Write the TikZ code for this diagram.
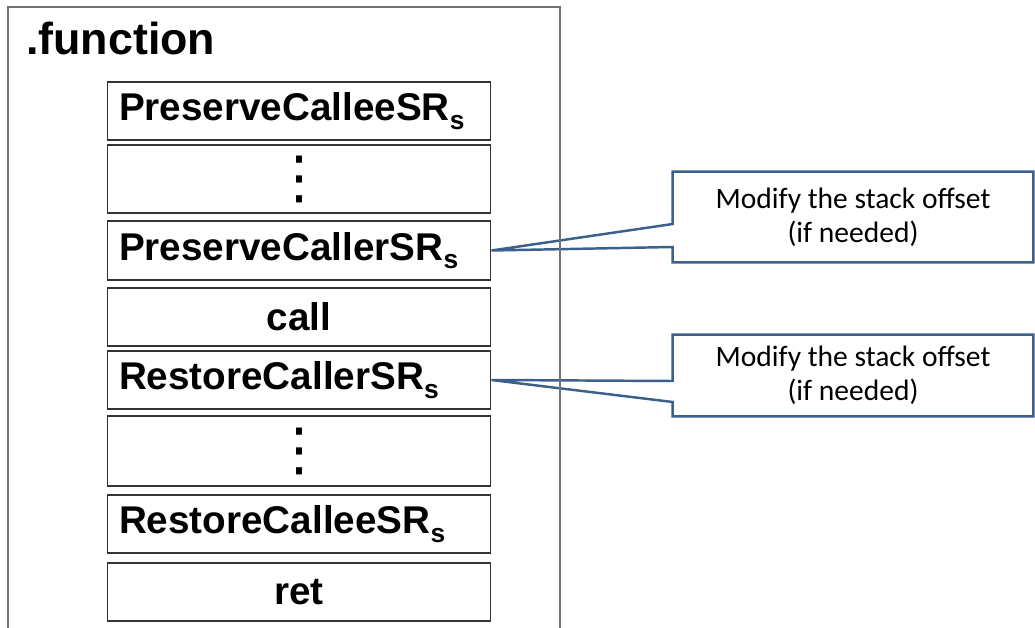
\documentclass[tikz,border=0pt]{standalone}
\usepackage{fontspec}
\setmainfont{Liberation Sans}
\newfontfamily\notefont{Carlito}
\newfontfamily\dotfont{DejaVu Sans}
\usepackage{tikz}
\usetikzlibrary{calc,backgrounds}

\definecolor{calloutblue}{RGB}{60,96,140}
\definecolor{framegray}{RGB}{115,115,115}

\newcommand{\srsub}{\raisebox{-0.22em}{\fontsize{15}{15}\selectfont s}}

\tikzset{
  slot/.style={draw=black!80, line width=0.6pt, minimum width=7.68cm, minimum height=1.16cm,
    inner sep=0pt, font=\fontsize{22}{26}\selectfont\bfseries},
  regslot/.style={slot, text width=7.2cm, align=left},
  dotslot/.style={slot, font=\dotfont\fontsize{33}{33}\selectfont},
  note/.style={minimum width=7.2cm, inner sep=0pt, align=center,
    font=\notefont\fontsize{16.8}{19.3}\selectfont},
  pointer/.style={draw=calloutblue, fill=white, line width=1.4pt}
}

\begin{document}
\begin{tikzpicture}[x=0.02cm, y=-0.02cm]
      \useasboundingbox (0,0) rectangle (1035,628);
      \draw[framegray, line width=0.9pt] (8,628) -- (8,7) -- (560,7) -- (560,628);
      \node[anchor=base west, font=\fontsize{25.5}{30}\selectfont\bfseries] (func) at (20,55) {.function};

      \node[regslot] (pce) at (299,111) {PreserveCalleeSR\srsub};
      \node[dotslot, minimum height=1.36cm] (gap1) at (299,179) {\raisebox{-0.08em}{⋮}};
      \node[regslot, minimum height=1.18cm] (pcr) at (299,250.5) {PreserveCallerSR\srsub};
      \node[slot] (call) at (299,317) {call};
      \node[regslot] (rcr) at (299,380) {RestoreCallerSR\srsub};
      \node[dotslot, minimum height=1.4cm] (gap2) at (299,451) {\raisebox{-0.08em}{⋮}};
      \node[regslot] (rce) at (299,524) {RestoreCalleeSR\srsub};
      \node[slot] (ret) at (299,592) {ret};

      % callouts
      \node[note, minimum height=1.8cm] (note1) at (853,217) {Modify the stack offset\\(if needed)};
      \node[note, minimum height=1.62cm] (note2) at (853,375.5) {Modify the stack offset\\(if needed)};
      \begin{scope}[on background layer]
      \draw[pointer] (note1.north west) -- (note1.north east) -- (note1.south east) -- (note1.south west)
        -- ($(note1.west)+(0,30)$) -- (pcr.east) -- ($(note1.west)+(0,7)$) -- cycle;
      \draw[pointer] (note2.north west) -- (note2.north east) -- (note2.south east) -- (note2.south west)
        -- ($(note2.west)+(0,26.5)$) -- (rcr.east) -- ($(note2.west)+(0,5.5)$) -- cycle;
      \end{scope}
    \end{tikzpicture}
\end{document}
